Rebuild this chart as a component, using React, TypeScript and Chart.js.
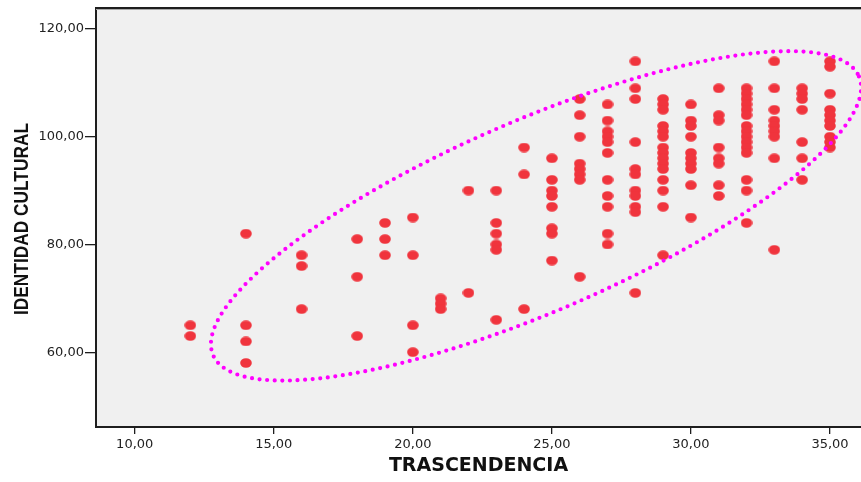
import React, { useEffect, useRef } from "react";
import { Chart, registerables } from "chart.js";

Chart.register(...registerables);

// TRASCENDENCIA values (x) and the IDENTIDAD CULTURAL values (y) found at each of them
const COLUMN_X = [12, 14, 16, 18, 19, 20, 21, 22, 23, 24, 25, 26, 27, 28, 29, 30, 31, 32, 33, 34, 35];
const COLUMN_Y: number[][] = [
  [65, 63],
  [82, 65, 62, 58],
  [78, 76, 68],
  [81, 74, 63],
  [84, 81, 78],
  [85, 78, 65, 60],
  [70, 69, 68],
  [90, 71],
  [90, 84, 82, 80, 79, 66],
  [98, 93, 68],
  [96, 92, 90, 89, 87, 83, 82, 77],
  [107, 104, 100, 95, 94, 93, 92, 74],
  [106, 103, 101, 100, 99, 97, 92, 89, 87, 82, 80],
  [114, 109, 107, 99, 94, 93, 90, 89, 87, 86, 71],
  [107, 106, 105, 102, 101, 100, 98, 97, 96, 95, 94, 92, 90, 87, 78],
  [106, 103, 102, 100, 97, 96, 95, 94, 91, 85],
  [109, 104, 103, 98, 96, 95, 91, 89],
  [109, 108, 107, 106, 105, 104, 102, 101, 100, 99, 98, 97, 92, 90, 84],
  [114, 109, 105, 103, 102, 101, 100, 96, 79],
  [109, 108, 107, 105, 99, 96, 92],
  [114, 113, 108, 105, 104, 103, 102, 100, 99, 98],
];

const X_TICKS = [10, 15, 20, 25, 30, 35];
const Y_TICKS = [60, 80, 100, 120];
const X_RANGE = [8.608, 36.115];
const Y_RANGE = [46.11, 123.9];
const X_TITLE = "TRASCENDENCIA";
const Y_TITLE = "IDENTIDAD CULTURAL";

// ellipse in data units: centre and two conjugate semi-diameters
const ELLIPSE_CENTER = [24.43, 85.31];
const ELLIPSE_U = [11.61, 25.88];
const ELLIPSE_V = [1.359, -16.29];

const POINT_COLOR = "#f0343d";
const ELLIPSE_COLOR = "#ff00ff";
const PLOT_BG = "#f0f0f0";
const AXIS_COLOR = "#1e1e1e";

function fmt(v: number): string {
  return Number(v).toFixed(2).replace(".", ",");
}

function makeMarker(): HTMLCanvasElement {
  const c = document.createElement("canvas");
  c.width = 12;
  c.height = 10;
  const g = c.getContext("2d")!;
  g.fillStyle = POINT_COLOR;
  g.beginPath();
  g.ellipse(6, 5, 5.8, 4.8, 0, 0, Math.PI * 2);
  g.fill();
  return c;
}

const backgroundPlugin = {
  id: "plotBackground",
  beforeDraw(chart: any) {
    const { ctx, chartArea } = chart;
    ctx.save();
    ctx.fillStyle = PLOT_BG;
    ctx.fillRect(chartArea.left, chartArea.top, chartArea.right - chartArea.left, chartArea.bottom - chartArea.top);
    ctx.restore();
  },
  afterDraw(chart: any) {
    const { ctx, chartArea } = chart;
    ctx.save();
    ctx.strokeStyle = AXIS_COLOR;
    ctx.lineWidth = 2;
    ctx.beginPath();
    ctx.moveTo(chartArea.left - 1, chartArea.top);
    ctx.lineTo(chartArea.right, chartArea.top);
    ctx.stroke();
    ctx.strokeStyle = "#a8a8a8";
    ctx.lineWidth = 1;
    ctx.beginPath();
    ctx.moveTo(chartArea.left, chartArea.top + 1.5);
    ctx.lineTo(chartArea.right, chartArea.top + 1.5);
    ctx.stroke();

    // y axis title, condensed along its length like the original
    const cy = (chartArea.top + chartArea.bottom) / 2 + 1.5;
    ctx.translate(22, cy);
    ctx.rotate(-Math.PI / 2);
    ctx.font = "bold 21px 'Liberation Sans', Arial, sans-serif";
    const w = ctx.measureText(Y_TITLE).width;
    ctx.scale(192 / w, 1);
    ctx.fillStyle = "#111";
    ctx.textAlign = "center";
    ctx.textBaseline = "middle";
    ctx.fillText(Y_TITLE, 0, 0);
    ctx.restore();
  },
};

const ellipsePlugin = {
  id: "ellipse",
  afterDatasetsDraw(chart: any) {
    const { ctx, chartArea } = chart;
    const xs = chart.scales.x;
    const ys = chart.scales.y;
    ctx.save();
    ctx.beginPath();
    ctx.rect(chartArea.left, chartArea.top, chartArea.right - chartArea.left, chartArea.bottom - chartArea.top);
    ctx.clip();
    ctx.beginPath();
    const n = 720;
    for (let i = 0; i <= n; i++) {
      const t = (i / n) * Math.PI * 2;
      const dx = ELLIPSE_CENTER[0] + ELLIPSE_U[0] * Math.cos(t) + ELLIPSE_V[0] * Math.sin(t);
      const dy = ELLIPSE_CENTER[1] + ELLIPSE_U[1] * Math.cos(t) + ELLIPSE_V[1] * Math.sin(t);
      const px = xs.getPixelForValue(dx);
      const py = ys.getPixelForValue(dy);
      if (i === 0) ctx.moveTo(px, py);
      else ctx.lineTo(px, py);
    }
    ctx.strokeStyle = ELLIPSE_COLOR;
    ctx.lineWidth = 4.2;
    ctx.lineCap = "round";
    ctx.setLineDash([0, 7.6]);
    ctx.stroke();
    ctx.restore();
  },
};

export default function App() {
  const ref = useRef<HTMLCanvasElement | null>(null);

  useEffect(() => {
    if (!ref.current) return;
    const marker = makeMarker();
    const points = COLUMN_X.flatMap((x, i) => COLUMN_Y[i].map((y) => ({ x, y })));
    const chart = new Chart(ref.current, {
      type: "scatter",
      data: {
        datasets: [
          {
            data: points,
            pointStyle: marker as any,
            pointRadius: 6,
            backgroundColor: POINT_COLOR,
            borderColor: POINT_COLOR,
          },
        ],
      },
      options: {
        animation: false,
        responsive: false,
        devicePixelRatio: 1,
        events: [],
        layout: { autoPadding: false, padding: { top: 8, left: 0, right: 0, bottom: 0 } },
        plugins: { legend: { display: false }, tooltip: { enabled: false } },
        scales: {
          x: {
            type: "linear",
            min: X_RANGE[0],
            max: X_RANGE[1],
            afterBuildTicks: (s: any) => {
              s.ticks = X_TICKS.map((v) => ({ value: v }));
            },
            afterFit: (s: any) => {
              s.height = 55;
              s.paddingLeft = 0;
              s.paddingRight = 0;
            },
            grid: { drawOnChartArea: false, drawTicks: true, tickLength: 7, color: AXIS_COLOR, lineWidth: 1.3 },
            border: { display: true, color: AXIS_COLOR, width: 2 },
            ticks: {
              callback: (v: any) => fmt(v),
              color: "#222",
              padding: 3,
              maxRotation: 0,
              autoSkip: false,
              font: { family: "'DejaVu Sans', sans-serif", size: 13 },
            },
            title: {
              display: true,
              text: X_TITLE,
              color: "#111",
              padding: { top: 0, bottom: 4.6 },
              font: { family: "'DejaVu Sans', sans-serif", size: 19, weight: "bold" },
            },
          },
          y: {
            type: "linear",
            min: Y_RANGE[0],
            max: Y_RANGE[1],
            afterBuildTicks: (s: any) => {
              s.ticks = Y_TICKS.map((v) => ({ value: v }));
            },
            afterFit: (s: any) => {
              s.width = 96;
              s.paddingTop = 0;
              s.paddingBottom = 0;
            },
            grid: { drawOnChartArea: false, drawTicks: true, tickLength: 11, color: AXIS_COLOR, lineWidth: 1.3 },
            border: { display: true, color: AXIS_COLOR, width: 2 },
            ticks: {
              callback: (v: any) => fmt(v),
              color: "#222",
              padding: 1,
              autoSkip: false,
              font: { family: "'DejaVu Sans', sans-serif", size: 13 },
            },
            title: { display: false },
          },
        },
      },
      plugins: [backgroundPlugin, ellipsePlugin],
    });
    return () => chart.destroy();
  }, []);

  return (
    <div style={{ position: "fixed", left: 0, top: 0, width: 861, height: 482, background: "#fff" }}>
      <canvas ref={ref} width={861} height={482} style={{ display: "block" }} />
    </div>
  );
}
